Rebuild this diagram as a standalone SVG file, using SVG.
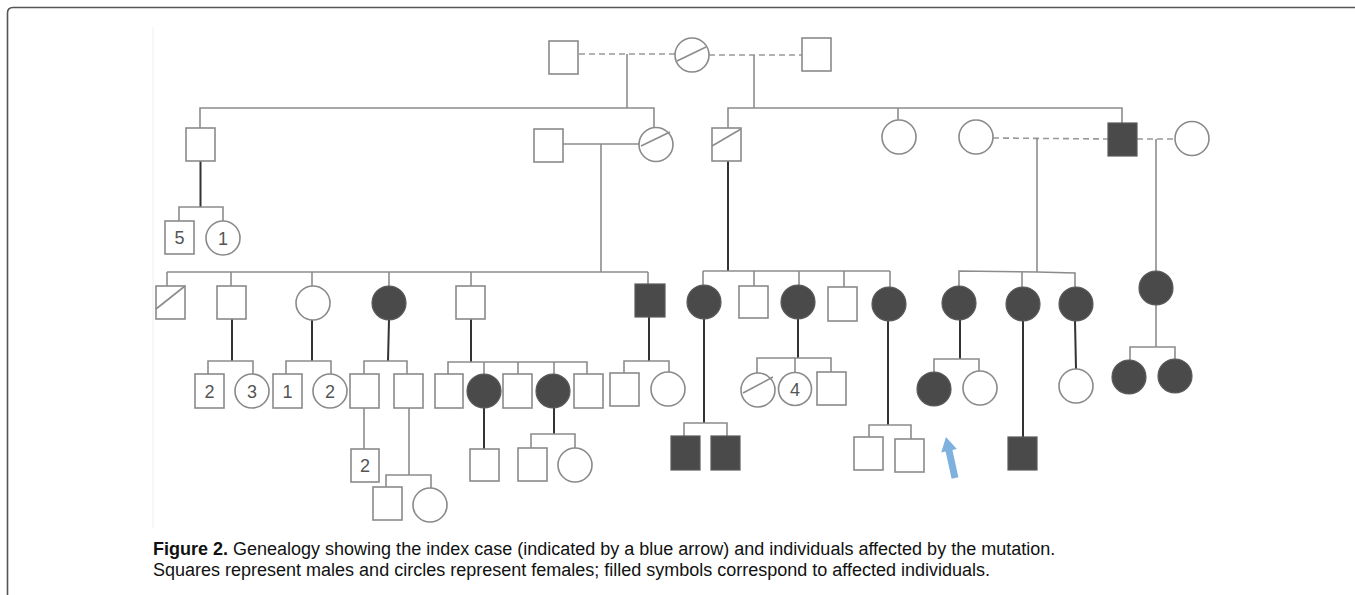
<svg xmlns="http://www.w3.org/2000/svg" width="1355" height="595" viewBox="0 0 1355 595">
<style>
.s{fill:#fff;stroke:#8a8a8a;stroke-width:1.6}
.a{fill:#4a4a4a;stroke:#5a5a5a;stroke-width:1.2}
.l{stroke:#8c8c8c;stroke-width:1.6;fill:none}
.d{stroke:#333;stroke-width:2;fill:none}
.ds{stroke:#999;stroke-width:1.6;stroke-dasharray:6 4;fill:none}
.n{font-family:"Liberation Sans",Arial,sans-serif;font-size:18px;fill:#555;text-anchor:middle}
.c{font-family:"Liberation Sans",Arial,sans-serif;font-size:18px;fill:#111}
</style>
<rect x="0" y="0" width="1355" height="595" fill="#fff"/>
<path d="M7.5,600 V13 Q7.5,7.5 13,7.5 H1360" fill="none" stroke="#555" stroke-width="1.6"/>
<line x1="153" y1="27" x2="153" y2="528" stroke="#eee" stroke-width="1"/>

<g id="connectors">
<line class="ds" x1="579" y1="54" x2="675" y2="54"/>
<line class="ds" x1="709" y1="55" x2="802" y2="55"/>
<line class="l" x1="627" y1="54" x2="627" y2="108"/>
<line class="l" x1="754" y1="55" x2="754" y2="108"/>
<polyline class="l" points="200,128 200,108 654,108 654,128"/>
<polyline class="l" points="728,128 728,108 1122,108 1122,123"/>
<line class="l" x1="898" y1="108" x2="898" y2="120"/>
<line class="l" x1="563" y1="144" x2="639" y2="144"/>
<line class="l" x1="601" y1="144" x2="601" y2="272"/>
<line class="ds" x1="993" y1="138" x2="1108" y2="139"/>
<line class="l" x1="1037" y1="138" x2="1037" y2="272"/>
<line class="ds" x1="1137" y1="139" x2="1175" y2="139"/>
<line class="l" x1="1156" y1="139" x2="1156" y2="271"/>
<line class="d" x1="200.5" y1="161" x2="200.5" y2="207"/>
<polyline class="l" points="179,221 179,207 223,207 223,221"/>
<line class="d" x1="728" y1="161" x2="728" y2="271"/>
<line class="l" x1="167" y1="272" x2="648" y2="272"/>
<line class="l" x1="167" y1="272" x2="167" y2="286"/>
<line class="l" x1="231" y1="272" x2="231" y2="286"/>
<line class="l" x1="312" y1="272" x2="312" y2="286"/>
<line class="l" x1="389" y1="272" x2="389" y2="286"/>
<line class="l" x1="471" y1="272" x2="471" y2="286"/>
<line class="l" x1="648" y1="272" x2="648" y2="284"/>
<line class="d" x1="232" y1="319" x2="232" y2="361"/>
<polyline class="l" points="208,374 208,361 253,361 253,374"/>
<line class="d" x1="312" y1="320" x2="312" y2="361"/>
<polyline class="l" points="286,374 286,361 331,361 331,374"/>
<line class="d" x1="389" y1="320" x2="388" y2="361"/>
<polyline class="l" points="364,374 364,361 407,361 407,374"/>
<line class="l" x1="364" y1="408" x2="364" y2="449"/>
<line class="l" x1="409" y1="408" x2="409" y2="475"/>
<polyline class="l" points="386,487 386,475 431,475 431,488"/>
<line class="d" x1="471" y1="319" x2="471" y2="362"/>
<polyline class="l" points="448,374 448,362 587,362 587,374"/>
<line class="l" x1="484" y1="362" x2="484" y2="374"/>
<line class="l" x1="518" y1="362" x2="518" y2="374"/>
<line class="l" x1="554" y1="362" x2="554" y2="374"/>
<line class="d" x1="484" y1="408" x2="484" y2="449"/>
<line class="d" x1="554" y1="408" x2="554" y2="434"/>
<polyline class="l" points="531,448 531,434 575,434 575,448"/>
<line class="d" x1="649" y1="317" x2="649" y2="361"/>
<polyline class="l" points="624,373 624,361 669,361 669,372"/>
<line class="l" x1="703" y1="271" x2="890" y2="271"/>
<line class="l" x1="703" y1="271" x2="703" y2="285"/>
<line class="l" x1="754" y1="271" x2="754" y2="286"/>
<line class="l" x1="799" y1="271" x2="799" y2="285"/>
<line class="l" x1="844" y1="271" x2="844" y2="287"/>
<line class="l" x1="890" y1="271" x2="890" y2="287"/>
<line class="d" x1="704" y1="319" x2="704" y2="423"/>
<polyline class="l" points="684,436 684,423 727,423 727,436"/>
<line class="d" x1="798" y1="319" x2="798" y2="358"/>
<polyline class="l" points="757,373 757,358 831,358 831,372"/>
<line class="l" x1="795" y1="358" x2="795" y2="372"/>
<line class="d" x1="888" y1="321" x2="888" y2="425"/>
<polyline class="l" points="869,437 869,425 911,425 911,439"/>
<polyline class="l" points="959,287 959,271 1037,272 1075,273 1075,287"/>
<line class="l" x1="1022" y1="272" x2="1022" y2="287"/>
<line class="d" x1="960" y1="320" x2="960" y2="359"/>
<polyline class="l" points="934,372 934,359 979,359 979,372"/>
<line class="d" x1="1023" y1="321" x2="1023" y2="437"/>
<line class="d" x1="1075" y1="321" x2="1076" y2="369"/>
<line class="l" x1="1156" y1="305" x2="1156" y2="347"/>
<polyline class="l" points="1130,360 1130,347 1175,347 1175,359"/>
</g>

<g id="gen1-m1"><rect class="s" x="549" y="41" width="29" height="33"/></g>
<g id="gen1-f"><circle class="s" cx="692" cy="55" r="17"/><line class="l" x1="677" y1="61" x2="706" y2="47"/></g>
<g id="gen1-m2"><rect class="s" x="802" y="38" width="29" height="33"/></g>

<g id="g2a"><rect class="s" x="186" y="128" width="29" height="33"/></g>
<g id="g2b"><rect class="s" x="534" y="129" width="29" height="33"/></g>
<g id="g2c"><circle class="s" cx="656" cy="144.5" r="17"/><line class="l" x1="641" y1="146" x2="670" y2="132"/></g>
<g id="g2d"><rect class="s" x="712" y="128" width="29" height="33"/><line class="l" x1="712" y1="146" x2="741" y2="129"/></g>
<g id="g2e"><circle class="s" cx="899" cy="137" r="17"/></g>
<g id="g2f"><circle class="s" cx="976" cy="137" r="17"/></g>
<g id="g2g"><rect class="a" x="1108" y="123" width="29" height="33"/></g>
<g id="g2h"><circle class="s" cx="1192" cy="138.5" r="17"/></g>

<g id="g2a-c1"><rect class="s" x="165" y="221" width="29" height="33"/><text class="n" x="179.5" y="244">5</text></g>
<g id="g2a-c2"><circle class="s" cx="223" cy="238" r="17"/><text class="n" x="223" y="244.5">1</text></g>

<g id="a1"><rect class="s" x="156" y="286" width="29" height="33"/><line class="l" x1="156" y1="309" x2="185" y2="286"/></g>
<g id="a2"><rect class="s" x="217" y="286" width="29" height="33"/></g>
<g id="a3"><circle class="s" cx="313" cy="303" r="17"/></g>
<g id="a4"><circle class="a" cx="389" cy="303" r="17"/></g>
<g id="a5"><rect class="s" x="456" y="286" width="29" height="33"/></g>
<g id="a6"><rect class="a" x="635" y="284" width="30" height="33"/></g>

<g id="a2-c1"><rect class="s" x="195" y="374" width="29" height="34"/><text class="n" x="209.5" y="397.5">2</text></g>
<g id="a2-c2"><circle class="s" cx="252" cy="391" r="17"/><text class="n" x="252" y="397.5">3</text></g>
<g id="a3-c1"><rect class="s" x="273" y="374" width="29" height="34"/><text class="n" x="287.5" y="397.5">1</text></g>
<g id="a3-c2"><circle class="s" cx="330" cy="391" r="17"/><text class="n" x="330" y="397.5">2</text></g>
<g id="b1"><rect class="s" x="350" y="374" width="29" height="34"/></g>
<g id="b2"><rect class="s" x="394" y="374" width="29" height="34"/></g>
<g id="b1-c"><rect class="s" x="351" y="449" width="28" height="33"/><text class="n" x="365" y="472">2</text></g>
<g id="b2-c1"><rect class="s" x="373" y="487" width="29" height="33"/></g>
<g id="b2-c2"><circle class="s" cx="430" cy="505" r="17"/></g>

<g id="c1"><rect class="s" x="435" y="374" width="28" height="34"/></g>
<g id="c2"><circle class="a" cx="484" cy="391" r="17"/></g>
<g id="c3"><rect class="s" x="503" y="374" width="29" height="34"/></g>
<g id="c4"><circle class="a" cx="553" cy="391" r="17"/></g>
<g id="c5"><rect class="s" x="574" y="374" width="29" height="34"/></g>
<g id="c2-c"><rect class="s" x="470" y="449" width="29" height="32"/></g>
<g id="c4-c1"><rect class="s" x="518" y="448" width="29" height="33"/></g>
<g id="c4-c2"><circle class="s" cx="575" cy="465" r="17"/></g>
<g id="a6-c1"><rect class="s" x="610" y="373" width="29" height="33"/></g>
<g id="a6-c2"><circle class="s" cx="668" cy="389" r="17"/></g>

<g id="m1"><circle class="a" cx="704" cy="302" r="17"/></g>
<g id="m2"><rect class="s" x="739" y="286" width="29" height="32"/></g>
<g id="m3"><circle class="a" cx="798" cy="302" r="17"/></g>
<g id="m4"><rect class="s" x="828" y="287" width="29" height="34"/></g>
<g id="m5"><circle class="a" cx="889" cy="304" r="17"/></g>
<g id="m1-c1"><rect class="a" x="671" y="436" width="29" height="34"/></g>
<g id="m1-c2"><rect class="a" x="711" y="436" width="29" height="34"/></g>
<g id="m3-c1"><circle class="s" cx="758" cy="390" r="17"/><line class="l" x1="743" y1="393" x2="773" y2="377"/></g>
<g id="m3-c2"><circle class="s" cx="795" cy="389" r="16.5"/><text class="n" x="795" y="395.5">4</text></g>
<g id="m3-c3"><rect class="s" x="817" y="372" width="29" height="33"/></g>
<g id="m5-c1"><rect class="s" x="854" y="437" width="29" height="33"/></g>
<g id="m5-c2"><rect class="s" x="895" y="439" width="29" height="33"/></g>

<g id="r1"><circle class="a" cx="959" cy="303" r="17"/></g>
<g id="r2"><circle class="a" cx="1023" cy="304" r="17"/></g>
<g id="r3"><circle class="a" cx="1076" cy="304" r="17"/></g>
<g id="r1-c1"><circle class="a" cx="934" cy="389" r="17"/></g>
<g id="r1-c2"><circle class="s" cx="980" cy="388" r="17"/></g>
<g id="r2-c"><rect class="a" x="1008" y="437" width="29" height="33"/></g>
<g id="r3-c"><circle class="s" cx="1076" cy="386" r="17"/></g>
<g id="f1"><circle class="a" cx="1156" cy="288" r="17"/></g>
<g id="f1-c1"><circle class="a" cx="1129" cy="377" r="17"/></g>
<g id="f1-c2"><circle class="a" cx="1175" cy="376" r="17"/></g>

<g id="index-arrow"><polygon points="951.6,478.8 945.6,451.5 941.2,452.4 946,437 956.8,449 952.4,450 958.4,477.3" fill="#7fb1de"/></g>

<g id="caption">
<text class="c" x="153" y="555"><tspan font-weight="bold">Figure 2.</tspan> Genealogy showing the index case (indicated by a blue arrow) and individuals affected by the mutation.</text>
<text class="c" x="153" y="576">Squares represent males and circles represent females; filled symbols correspond to affected individuals.</text>
</g>
</svg>
